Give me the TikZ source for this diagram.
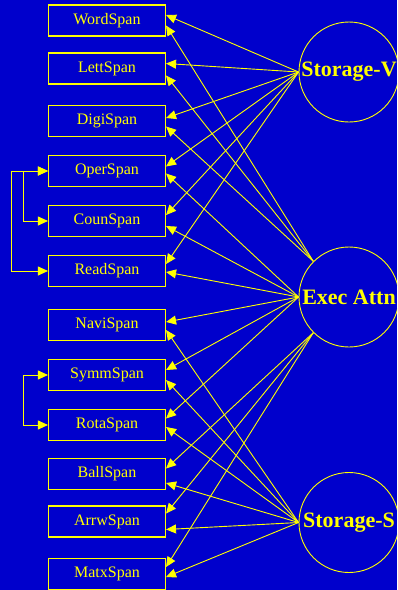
\documentclass[tikz,border=0pt]{standalone}
\usepackage{fontspec}
\setmainfont{Liberation Serif}
\usepackage{tikz}
\usetikzlibrary{arrows.meta}
\definecolor{slideblue}{RGB}{0,0,204}
\definecolor{lineyellow}{RGB}{255,255,0}

\begin{document}
\begin{tikzpicture}[
x=1pt, y=-1pt,
box/.style={
draw=lineyellow,
line width=1.1pt,
minimum width=117pt,
minimum height=31pt,
inner sep=0pt,
text=lineyellow,
font=\fontsize{16}{18}\selectfont
},
factor/.style={
circle,
draw=lineyellow,
line width=0.9pt,
minimum size=100pt,
inner sep=0pt,
text=lineyellow,
font=\fontsize{22}{24}\selectfont\bfseries
},
arrow/.style={
-{Triangle[length=10pt,width=9pt]},
line width=0.9pt,
draw=lineyellow
},
corr/.style={
{Triangle[length=10pt,width=9pt]}-{Triangle[length=10pt,width=9pt]},
line width=0.9pt,
draw=lineyellow
}
]

\clip (0,0) rectangle (397,590);
\fill[slideblue] (0,0) rectangle (397,590);

\node[box] (word) at (107,20.5) {WordSpan};
\node[box] (lett) at (107,68.5) {LettSpan};
\node[box] (digi) at (107,121) {DigiSpan};
\node[box] (oper) at (107,171) {OperSpan};
\node[box] (coun) at (107,221) {CounSpan};
\node[box] (read) at (107,271) {ReadSpan};
\node[box] (navi) at (107,325) {NaviSpan};
\node[box] (symm) at (107,375) {SymmSpan};
\node[box] (rota) at (107,425) {RotaSpan};
\node[box] (ball) at (107,474) {BallSpan};
\node[box] (arrw) at (107,521.5) {ArrwSpan};
\node[box] (matx) at (107,574) {MatxSpan};

\node[factor] (sv) at (349,72) {Storage-V};
\node[factor] (ea) at (349,297) {Exec Attn};
\node[factor] (ss) at (349,522.5) {Storage-S};

% verbal storage
\draw[arrow] (sv.west) -- ([yshift=5.5pt]word.east);
\draw[arrow] (sv.west) -- ([yshift=5pt]lett.east);
\draw[arrow] (sv.west) -- ([yshift=3pt]digi.east);
\draw[arrow] (sv.west) -- ([yshift=4.5pt]oper.east);
\draw[arrow] (sv.west) -- ([yshift=6pt]coun.east);
\draw[arrow] (sv.west) -- ([yshift=7pt]read.east);

% executive attention
\draw[arrow] (ea.135) -- ([yshift=-5pt]word.east);
\draw[arrow] (ea.135) -- ([yshift=-7pt]lett.east);
\draw[arrow] (ea.135) -- ([yshift=-5.5pt]digi.east);
\draw[arrow] (ea.west) -- ([yshift=-2.5pt]oper.east);
\draw[arrow] (ea.west) -- ([yshift=-5pt]coun.east);
\draw[arrow] (ea.west) -- ([yshift=-1pt]read.east);
\draw[arrow] (ea.west) -- ([yshift=3pt]navi.east);
\draw[arrow] (ea.west) -- ([yshift=5pt]symm.east);
\draw[arrow] (ea.west) -- ([yshift=6.5pt]rota.east);
\draw[arrow] (ea.225) -- ([yshift=5.5pt]ball.east);
\draw[arrow] (ea.225) -- ([yshift=8pt]arrw.east);
\draw[arrow] (ea.225) -- ([yshift=7pt]matx.east);

% spatial storage
\draw[arrow] (ss.west) -- ([yshift=-5pt]navi.east);
\draw[arrow] (ss.west) -- ([yshift=-5pt]symm.east);
\draw[arrow] (ss.west) -- ([yshift=-2pt]rota.east);
\draw[arrow] (ss.west) -- ([yshift=-9pt]ball.east);
\draw[arrow] (ss.west) -- ([yshift=-8pt]arrw.east);
\draw[arrow] (ss.west) -- ([yshift=-3pt]matx.east);

% correlated residuals
\draw[corr] (oper.west) -- ++(-37,0) |- (read.west);
\draw[corr] (oper.west) -- ++(-25,0) |- (coun.west);
\draw[corr] (symm.west) -- ++(-25,0) |- (rota.west);

\end{tikzpicture}
\end{document}
